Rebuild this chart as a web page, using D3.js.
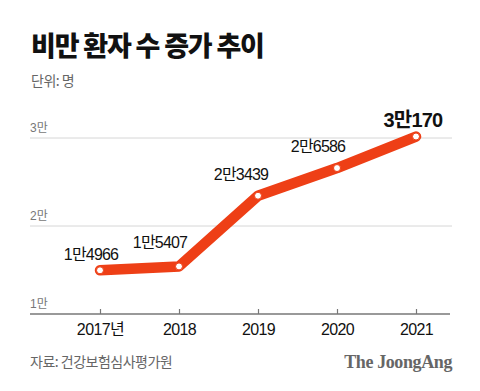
<!DOCTYPE html>
<html><head><meta charset="utf-8">
<script src="https://cdn.jsdelivr.net/npm/d3@7"></script>
<style>body{margin:0;background:#fff}svg{display:block}</style>
</head><body>
<script>
const years = ["2017", "2018", "2019", "2020", "2021"];
const xLabels = ["2017년", "2018", "2019", "2020", "2021"];
const values = [14966, 15407, 23439, 26586, 30170];
const valueLabels = ["1만4966", "1만5407", "2만3439", "2만6586", "3만170"];
const yTicks = [10000, 20000, 30000];
const yTickLabels = ["1만", "2만", "3만"];

const W = 480, H = 391;
const svg = d3.select("body").append("svg").attr("width", W).attr("height", H);
const font = "'Noto Sans CJK KR', 'Noto Sans', sans-serif";
const numFont = "'Liberation Sans', 'Noto Sans CJK KR', sans-serif";

const x = d3.scalePoint().domain(years).range([100, 416]);
const y = d3.scaleLinear().domain([10000, 30000]).range([314, 138]);

// title
svg.append("text").attr("x", 31).attr("y", 56).text("비만 환자 수 증가 추이")
  .attr("font-family", font).attr("font-weight", 900).attr("font-size", 27)
  .attr("letter-spacing", -1.2).attr("fill", "#111");
svg.append("text").attr("x", 31).attr("y", 86).text("단위: 명")
  .attr("font-family", font).attr("font-size", 14).attr("fill", "#666").attr("letter-spacing", -0.5);

// grid
const grid = svg.append("g");
yTicks.forEach((t, i) => {
  if (t > 10000) grid.append("line").attr("x1", 30).attr("x2", 452)
    .attr("y1", y(t)).attr("y2", y(t)).attr("stroke", "#d6d6d6").attr("stroke-width", 1);
  grid.append("text").attr("x", 30).attr("y", y(t) - 6).text(yTickLabels[i])
    .attr("font-family", numFont).attr("font-size", 12).attr("fill", "#777");
});

// x axis
const xAxis = d3.axisBottom(x).tickSize(5).tickFormat((d, i) => xLabels[i]);
const gx = svg.append("g").attr("transform", `translate(0,${y(10000)})`);
gx.call(xAxis);
gx.select(".domain").remove();
gx.append("line").attr("x1", 30).attr("x2", 450).attr("y1", 0).attr("y2", 0)
  .attr("stroke", "#777").attr("stroke-width", 1.5);
gx.selectAll(".tick line").attr("stroke", "#777").attr("y1", -5).attr("y2", 0).attr("stroke-width", 1.2);
gx.selectAll(".tick text").attr("font-family", numFont).attr("font-size", 16)
  .attr("fill", "#111").attr("dy", 0).attr("y", 21).attr("letter-spacing", -0.6);

// line
const line = d3.line().x((d, i) => x(years[i])).y(d => y(d));
svg.append("path").datum(values).attr("d", line).attr("fill", "none")
  .attr("stroke", "#ee3f16").attr("stroke-width", 10.5)
  .attr("stroke-linejoin", "round").attr("stroke-linecap", "round");
svg.selectAll("circle.pt").data(values).join("circle").attr("class", "pt")
  .attr("cx", (d, i) => x(years[i])).attr("cy", d => y(d)).attr("r", 3.5)
  .attr("fill", "#fff").attr("stroke", "#ee3f16").attr("stroke-width", 1);

// value labels
const offs = [[-9, -10], [-19, -18], [-17, -16], [-19, -16], [-3, -10]];
svg.selectAll("text.val").data(values).join("text").attr("class", "val")
  .attr("x", (d, i) => x(years[i]) + offs[i][0])
  .attr("y", (d, i) => y(d) + offs[i][1])
  .attr("text-anchor", "middle").text((d, i) => valueLabels[i])
  .attr("font-family", numFont).attr("fill", "#111")
  .attr("font-size", (d, i) => i === 4 ? 20 : 16)
  .attr("font-weight", (d, i) => i === 4 ? 700 : 400)
  .attr("letter-spacing", -0.8);

// footer
svg.append("text").attr("x", 30).attr("y", 367).text("자료: 건강보험심사평가원")
  .attr("font-family", font).attr("font-size", 14).attr("fill", "#666").attr("letter-spacing", -0.5);
svg.append("text").attr("x", 452).attr("y", 368).attr("text-anchor", "end").text("The JoongAng")
  .attr("font-family", "'Liberation Serif', 'DejaVu Serif', serif").attr("font-weight", 700)
  .attr("font-size", 18).attr("fill", "#666").attr("letter-spacing", -0.4);
</script>
</body></html>
